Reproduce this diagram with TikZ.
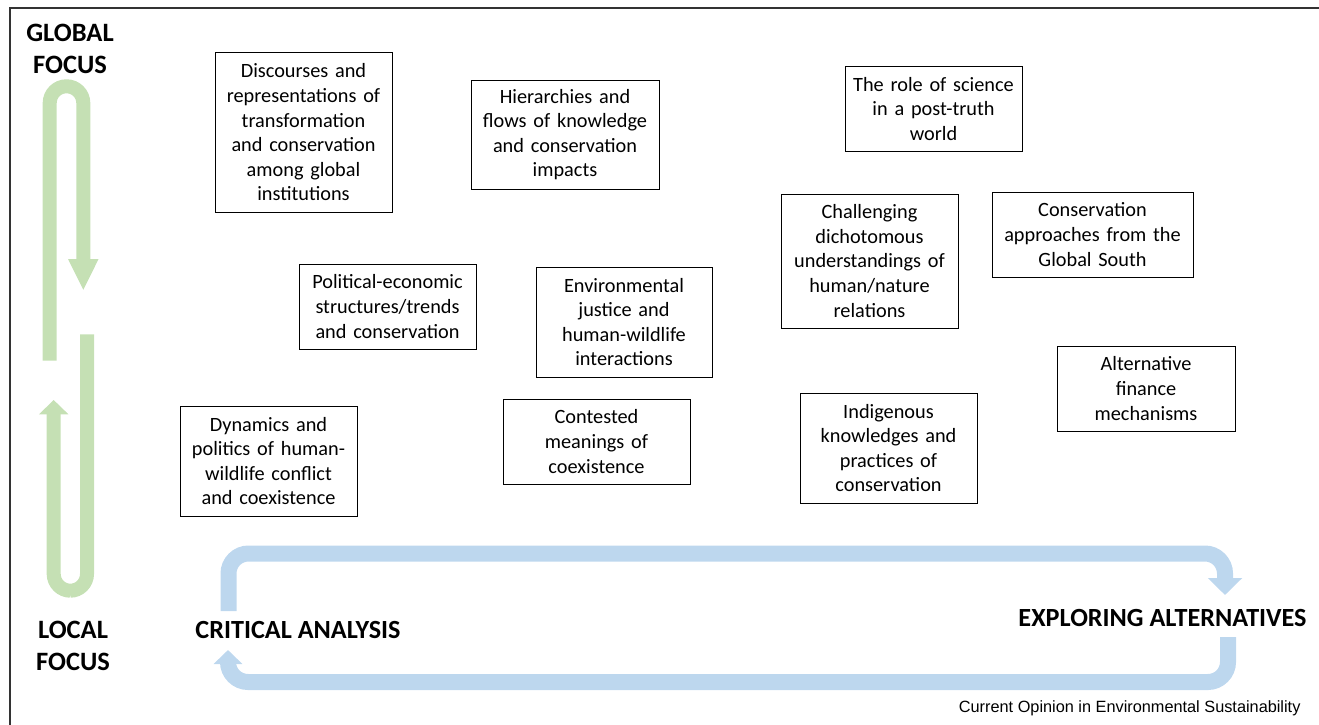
\documentclass[tikz,border=0pt]{standalone}
\usepackage{xcolor}
\usepackage{fontspec}
\setmainfont{Carlito}
\newfontfamily\creditfont{Liberation Sans}
\usetikzlibrary{arrows.meta}

\definecolor{focusgreen}{RGB}{197,224,180}
\definecolor{cycleblue}{RGB}{189,215,238}

\begin{document}
\begin{tikzpicture}[x=1pt,y=-1pt,
                    topic box/.style={rectangle,draw,line width=1pt,inner sep=0pt,align=center,
                                      font=\fontsize{20.3}{24.6}\selectfont},
                    axis label/.style={align=center,font=\bfseries\fontsize{26.5}{32}\selectfont},
                    cycle label/.style={font=\bfseries\fontsize{26.2}{30}\selectfont},
                    focus arrow/.style={draw=focusgreen,line width=14pt,rounded corners=16.7pt},
                    cycle arrow/.style={draw=cycleblue,line width=16pt,rounded corners=20pt}]

  \useasboundingbox (0,0) rectangle (1319,725);
  \draw[black!80,line width=2pt] (9.5,725) -- (9.5,8) -- (1319,8);

  % topics
  \node[topic box,text width=177pt,minimum height=159pt] (1) at (303.5,132.5)
    {Discourses and\\representations of\\transformation\\and conservation\\among global\\institutions};
  \node[topic box,text width=188pt,minimum height=109pt] (2) at (565,134.5)
    {Hierarchies and\\flows of knowledge\\and conservation\\impacts};
  \node[topic box,text width=177pt,minimum height=84pt] (3) at (933.5,109)
    {The role of science\\in a post-truth\\world};
  \node[topic box,text width=177pt,minimum height=134pt] (4) at (869.5,261)
    {Challenging\\dichotomous\\understandings of\\human/nature\\relations};
  \node[topic box,text width=201pt,minimum height=85pt] (5) at (1092.5,234.5)
    {Conservation\\approaches from the\\Global South};
  \node[topic box,text width=177pt,minimum height=85pt] (6) at (387.5,306.5)
    {Political-economic\\structures/trends\\and conservation};
  \node[topic box,text width=176pt,minimum height=110pt] (7) at (624,322)
    {Environmental\\justice and\\human-wildlife\\interactions};
  \node[topic box,text width=177pt,minimum height=110pt] (8) at (268.5,461)
    {Dynamics and\\politics of human-\\wildlife conflict\\and coexistence};
  \node[topic box,text width=187pt,minimum height=85pt] (9) at (596.5,441.5)
    {Contested\\meanings of\\coexistence};
  \node[topic box,text width=177pt,minimum height=110pt] (10) at (888.5,448)
    {Indigenous\\knowledges and\\practices of\\conservation};
  \node[topic box,text width=178pt,minimum height=85pt] (11) at (1146,388.5)
    {Alternative\\finance\\mechanisms};

  % scale axis
  \node[axis label] (global) at (70,49) {GLOBAL\\FOCUS};
  \node[axis label] (local) at (73,645.5) {LOCAL\\FOCUS};

  \coordinate (g1) at (49.7,360.7);
  \coordinate (g2) at (83.3,290.7);
  \coordinate (g3) at (87,334.3);
  \coordinate (g4) at (53.7,400);
  \draw[focus arrow,-{Triangle[length=31.7pt,width=28pt]}]
    (g1) -- (49.7,86.3) -- (83.3,86.3) -- (g2);
  \draw[focus arrow,-{Triangle[length=14.3pt,width=28.6pt]}]
    (g3) -- (87,590.7) -- (53.7,590.7) -- (g4);

  % analysis cycle
  \node[cycle label] (critical) at (298,630) {CRITICAL ANALYSIS};
  \node[cycle label] (explore) at (1162.5,618) {EXPLORING ALTERNATIVES};

  \coordinate (c1) at (228.5,611);
  \coordinate (c2) at (1225,595);
  \coordinate (c3) at (1228,637);
  \coordinate (c4) at (228,650);
  \draw[cycle arrow,-{Triangle[length=17pt,width=33.5pt]}]
    (c1) -- (228.5,553.5) -- (1225,553.5) -- (c2);
  \draw[cycle arrow,-{Triangle[length=14pt,width=28pt]}]
    (c3) -- (1228,682) -- (228,682) -- (c4);

  \node[anchor=east,font=\creditfont\fontsize{16.3}{18}\selectfont] (credit) at (1304,708)
    {Current Opinion in Environmental Sustainability};
\end{tikzpicture}
\end{document}
